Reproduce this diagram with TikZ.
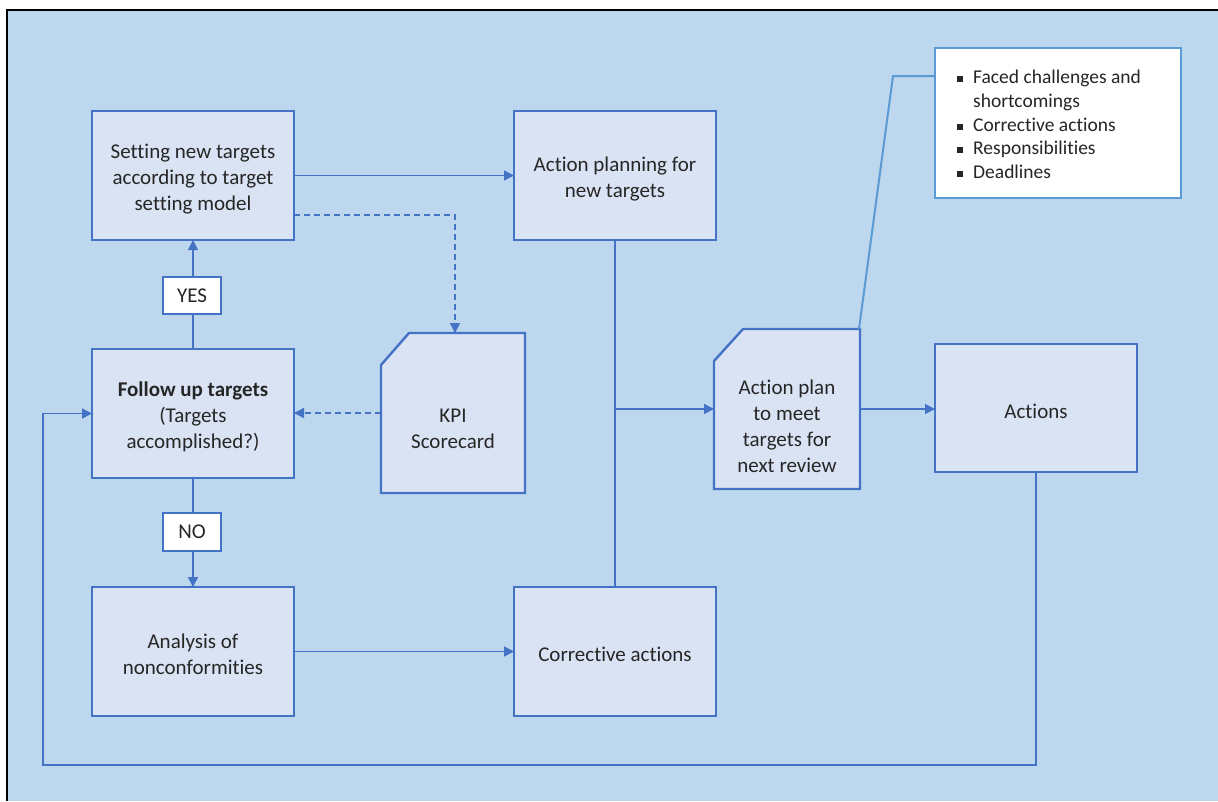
\documentclass[tikz,border=0pt]{standalone}
\usepackage{fontspec}
\setmainfont{Carlito}[Ligatures=NoCommon]
\usetikzlibrary{arrows.meta,calc}

\definecolor{bgblue}{HTML}{BDD7EE}
\definecolor{boxfill}{HTML}{DAE3F3}
\definecolor{boxline}{HTML}{4472C4}
\definecolor{noteline}{HTML}{5B9BD5}

\newcommand\mainsz{\fontsize{21}{26}\selectfont}
\newcommand\notesz{\fontsize{19.5}{23.7}\selectfont}
\newcommand\sqbullet{\rule[1.5pt]{6pt}{6pt}}
% pushes the first line of a box text slightly down
\newcommand\toppad{\rule{0pt}{21pt}}

\tikzset{
  stepbox/.style={draw=boxline, fill=boxfill, line width=2.4pt,
    minimum width=202pt, minimum height=129pt, inner sep=0pt, outer sep=0pt,
    align=center, anchor=north west, font=\mainsz, text=black!85},
  docarea/.style={draw=none, inner sep=0pt, outer sep=0pt, anchor=north west,
    minimum height=160pt},
  docline/.style={draw=boxline, fill=boxfill, line width=2.4pt, line join=miter},
  doctext/.style={align=center, font=\mainsz, text=black!85},
  answer/.style={draw=boxline, fill=white, line width=2pt, minimum width=58pt,
    inner sep=0pt, font=\mainsz, text=black!85},
  conn/.style={draw=boxline, line width=1.5pt},
  arrowed/.style={conn, -{Triangle[length=10pt,width=10pt]}},
  dashedarrow/.style={arrowed, dash pattern=on 6pt off 4pt},
  callout/.style={draw=noteline, line width=2pt},
  notebox/.style={draw=noteline, fill=white, line width=2pt, anchor=north west,
    minimum width=246pt, minimum height=150pt, inner sep=0pt, outer sep=0pt},
  noteitem/.style={anchor=base west, font=\notesz, inner sep=0pt, text=black!85},
}

\begin{document}
\begin{tikzpicture}[x=1pt,y=-1pt]
\useasboundingbox (0,0) rectangle (1218,801);
% frame
\fill[bgblue] (7,10) rectangle (1218,801);
\draw[black, line width=2pt] (7,801) -- (7,10) -- (1218,10);

% process boxes
\node[stepbox] (setting) at (92,111) {\toppad Setting new targets\\according to target\\setting model};
\node[stepbox] (planning) at (514,111) {\toppad Action planning for\\new targets};
\node[stepbox] (follow) at (92,349) {\toppad\textbf{Follow up targets}\\(Targets\\accomplished?)};
\node[stepbox] (analysis) at (92,587) {\toppad Analysis of\\nonconformities};
\node[stepbox] (corrective) at (514,587) {\toppad Corrective actions};
\node[stepbox, minimum height=128pt] (actions) at (935,344) {\toppad Actions};

% documents with a cut corner
\node[docarea, minimum width=144pt] (kpi) at (381,333) {};
\draw[docline] (kpi.south west) -- ([yshift=-32pt]kpi.north west)
  -- ([xshift=28pt]kpi.north west) -- (kpi.north east) -- (kpi.south east) -- cycle;
\node[doctext] (kpitext) at ([yshift=-16pt]kpi.center) {KPI\\Scorecard};

\node[docarea, minimum width=146pt] (plan) at (714,329) {};
\draw[docline] (plan.south west) -- ([yshift=-32pt]plan.north west)
  -- ([xshift=29pt]plan.north west) -- (plan.north east) -- (plan.south east) -- cycle;
\node[doctext] (plantext) at ([yshift=-17pt]plan.center) {Action plan\\to meet\\targets for\\next review};

% note box with bullet list
\node[notebox] (note) at (935,48) {};
\node[noteitem] (n1) at (957,83) {\sqbullet\hspace{10pt}Faced challenges and};
\node[noteitem] (n2) at (973,107) {shortcomings};
\node[noteitem] (n3) at (957,131) {\sqbullet\hspace{10pt}Corrective actions};
\node[noteitem] (n4) at (957,154) {\sqbullet\hspace{10pt}Responsibilities};
\node[noteitem] (n5) at (957,178) {\sqbullet\hspace{10pt}Deadlines};

% connectors
\draw[arrowed] (setting.east) -- (planning.west);
\draw[dashedarrow] ([yshift=-39.5pt]setting.east) -| ([xshift=2pt]kpi.north);
\draw[dashedarrow] (kpi.west) -- (kpi.west -| follow.east);
\draw[arrowed] (follow.north) -- (setting.south);
\draw[arrowed] (follow.south) -- (analysis.north);
\draw[arrowed] (analysis.east) -- (corrective.west);
\draw[conn] (planning.south) -- (corrective.north);
\coordinate (junction) at (planning.south |- plan.west);
\draw[arrowed] (junction) -- (plan.west);
\draw[arrowed] (plan.east) -- (plan.east -| actions.west);
\coordinate (loopcorner) at (43,765);
\draw[arrowed] (actions.south) |- (loopcorner) |- (follow.west);
\coordinate (bend) at (893,76);
\draw[callout] ([xshift=-1pt]plan.north east) -- (bend) -- (bend -| note.west);

% decision labels
\node[answer, minimum height=37pt] (yes) at (192,295.5) {YES};
\node[answer, minimum height=38pt] (no) at (192,531.5) {NO};
\end{tikzpicture}
\end{document}
